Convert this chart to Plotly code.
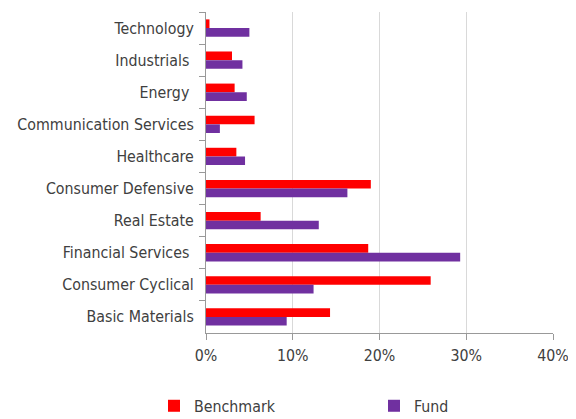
import plotly.graph_objects as go

categories = ["Technology", "Industrials ", "Energy ", "Communication Services", "Healthcare",
              "Consumer Defensive", "Real Estate", "Financial Services ", "Consumer Cyclical",
              "Basic Materials"]
benchmark = [0.4, 3.0, 3.3, 5.6, 3.5, 19.0, 6.3, 18.7, 25.9, 14.3]
fund = [5.0, 4.2, 4.7, 1.6, 4.5, 16.3, 13.0, 29.3, 12.4, 9.3]
x_ticks = [0, 10, 20, 30, 40]
x_tick_labels = ["0%", "10%", "20%", "30%", "40%"]

FONT = "DejaVu Sans Condensed, sans-serif"
FS = 15.8
W, H = 576, 419
OFF = 8  # page body offset

fig = go.Figure()
fig.add_trace(go.Bar(y=categories, x=benchmark, name="Benchmark", orientation="h",
                     marker=dict(color="#ff0000", line=dict(width=0)), legend="legend"))
fig.add_trace(go.Bar(y=categories, x=fund, name="Fund", orientation="h",
                     marker=dict(color="#7030a0", line=dict(width=0)), legend="legend2"))

leg_common = dict(orientation="h", yref="container", xref="container",
                  yanchor="middle", xanchor="left",
                  font=dict(family=FONT, size=FS, color="#404040"),
                  itemwidth=30, bgcolor="rgba(0,0,0,0)")

leg_y = (H - (406 - OFF)) / H
fig.update_layout(
    width=W, height=H,
    margin=dict(l=206 - OFF, r=W - (553 - OFF), t=12 - OFF, b=H - (333 - OFF), autoexpand=False),
    paper_bgcolor="white", plot_bgcolor="white",
    font=dict(family=FONT, size=FS, color="#404040"),
    barmode="group", bargap=0.46, bargroupgap=0,
    showlegend=True,
    legend=dict(x=(154 - OFF) / W, y=leg_y, **leg_common),
    legend2=dict(x=(374 - OFF) / W, y=leg_y, **leg_common),
)
fig.update_xaxes(range=[0, 40], tickvals=x_ticks, ticktext=x_tick_labels,
                 showgrid=True, gridcolor="#d9d9d9", gridwidth=1,
                 showline=True, linecolor="#999999", linewidth=1,
                 ticks="outside", ticklen=6, tickcolor="#999999",
                 zeroline=False, automargin=False, ticklabelstandoff=2)
fig.update_yaxes(autorange="reversed", type="category",
                 showline=True, linecolor="#999999", linewidth=1,
                 ticks="outside", ticklen=6, tickcolor="#999999",
                 tickson="boundaries", showgrid=False, ticklabelstandoff=8,
                 automargin=False)

fig.write_html("out.html")
